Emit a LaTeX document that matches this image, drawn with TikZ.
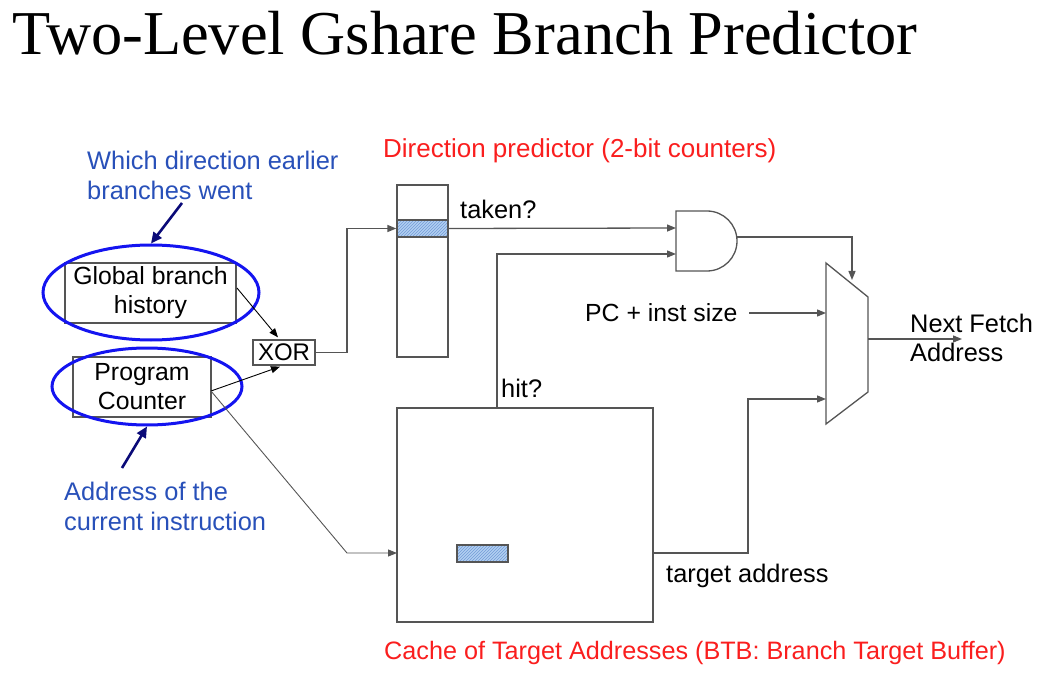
\documentclass[tikz,border=0pt]{standalone}
\usepackage{fontspec}
\setmainfont{Liberation Sans}
\newfontfamily\titlefont{Liberation Serif}
\usetikzlibrary{arrows.meta,patterns,shapes.geometric,calc}
\definecolor{linegray}{RGB}{85,85,85}
\definecolor{annoblue}{RGB}{40,80,185}
\definecolor{ellblue}{RGB}{20,20,240}
\definecolor{navyarrow}{RGB}{10,10,120}
\definecolor{labelred}{RGB}{250,30,30}
\definecolor{hatchfill}{RGB}{178,208,242}
\definecolor{hatchline}{RGB}{115,155,215}
\begin{document}
\begin{tikzpicture}[x=1pt,y=-1pt,
  txt/.style={font=\fontsize{25.4}{30}\selectfont, inner sep=0pt},
  box/.style={draw=linegray, line width=1.3pt, inner sep=0pt, fill=white},
  hatchbox/.style={draw=linegray, line width=1.3pt, inner sep=0pt,
     preaction={fill=hatchfill}, pattern=north east lines, pattern color=hatchline},
  wire/.style={draw=linegray, line width=1.3pt},
  arr/.style={wire, -{Triangle[length=9pt,width=7pt]}},
  thinarr/.style={draw=black, line width=0.9pt, -{Triangle[length=9pt,width=7pt]}},
  ell/.style={ellipse, draw=ellblue, line width=3pt, inner sep=0pt},
  navy/.style={draw=navyarrow, line width=2.6pt, -{Triangle[length=11pt,width=10pt]}}]
\useasboundingbox (0,0) rectangle (1057,676);

% title
\node[anchor=base west, inner sep=0pt, font=\titlefont\fontsize{62.4}{62}\selectfont] (title) at (12,55) {Two-Level Gshare Branch Predictor};

% annotations
\node[txt, text=annoblue, align=left, anchor=west] (note1) at (87,175) {Which direction earlier\\branches went};
\node[txt, text=annoblue, align=left, anchor=west] (note2) at (64,506) {Address of the\\current instruction};
\node[txt, text=labelred, anchor=base west, font=\fontsize{26}{30}\selectfont] (dplabel) at (383,158) {Direction predictor (2-bit counters)};
\node[txt, text=labelred, anchor=base west, font=\fontsize{25.2}{30}\selectfont] (btblabel) at (384,659) {Cache of Target Addresses (BTB: Branch Target Buffer)};

% left boxes
\node[box, minimum width=171pt, minimum height=60pt, align=center, font=\fontsize{24.8}{29}\selectfont] (gbh) at (150.5,293) {Global branch\\history};
\node[box, minimum width=138pt, minimum height=60pt, align=center, font=\fontsize{24.8}{29}\selectfont] (pc) at (142,387) {Program\\Counter};
\node[ell, minimum width=216pt, minimum height=95pt] (e1) at (151,292.5) {};
\node[ell, minimum width=190pt, minimum height=77pt] (e2) at (147,386.5) {};
\node[box, minimum width=62pt, minimum height=25pt, font=\fontsize{24}{24}\selectfont] (xor) at (284,352.5) {XOR};

% navy arrows
\coordinate (n1s) at (182,203);
\coordinate (n2s) at (122,468);
\draw[navy] (n1s) -- (e1.north);
\draw[navy] (n2s) -- (e2.south);

% direction predictor table
\node[box, minimum width=51pt, minimum height=172pt] (dp) at (422.5,271) {};
\node[hatchbox, minimum width=51pt, minimum height=17pt] (dprow) at (422.5,228.5) {};

% BTB
\node[box, minimum width=256pt, minimum height=214pt] (btb) at (525,515) {};
\node[hatchbox, minimum width=51pt, minimum height=17pt] (btbrow) at (482.5,553.5) {};

% AND gate
\coordinate (and1) at (676,228);
\coordinate (and2) at (676,254);
\coordinate (andout) at (737,237);
\draw[wire, fill=white] (676,211) -- (707,211) arc[start angle=-90, end angle=90, radius=30] -- (676,271) -- cycle;

% MUX
\coordinate (muxsel) at (852,280);
\coordinate (muxin1) at (826,313);
\coordinate (muxin2) at (826,399);
\coordinate (muxout) at (868,339);
\draw[wire, fill=white] (826,263) -- (868,297) -- (868,392) -- (826,424) -- cycle;

% labels
\node[txt, anchor=base west] (taken) at (460,219) {taken?};
\node[txt, anchor=base west] (hit) at (501,397) {hit?};
\node[txt, anchor=base west, font=\fontsize{24.8}{30}\selectfont] (pcinst) at (585,321) {PC + inst size};
\node[txt, anchor=base west] (target) at (666,582) {target address};
\node[txt, anchor=west, align=left, font=\fontsize{25.4}{29}\selectfont] (nfa) at (910,338) {Next Fetch\\Address};

% connectors
\coordinate (gbhout) at (237,288);
\coordinate (pcout) at (211,391);
\coordinate (btbin) at (397,553);
\coordinate (hitpt) at (497,408);
\coordinate (btbout) at (653,553);
\coordinate (nfaend) at (962,339);
\coordinate (pcarrs) at (749,313);

\draw[thinarr] (gbhout) -- ($(xor.north)+(-6,-2)$);
\draw[thinarr] (pcout) -- ($(xor.south)+(-4,1)$);
\draw[draw=linegray, line width=0.9pt, -{Triangle[length=9pt,width=7pt]}] (pcout) -- (347,553) -- (btbin);
\draw[arr] (xor.east) -- (347,352.5) |- (dprow.west);
\draw[arr] (dprow.east) -- (and1);
\draw[arr] (hitpt) |- (and2);
\draw[arr] (andout) -| (muxsel);
\draw[arr] (pcarrs) -- (muxin1);
\draw[arr] (btbout) -- (748,553) |- (muxin2);
\draw[arr] (muxout) -- (nfaend);
\end{tikzpicture}
\end{document}
